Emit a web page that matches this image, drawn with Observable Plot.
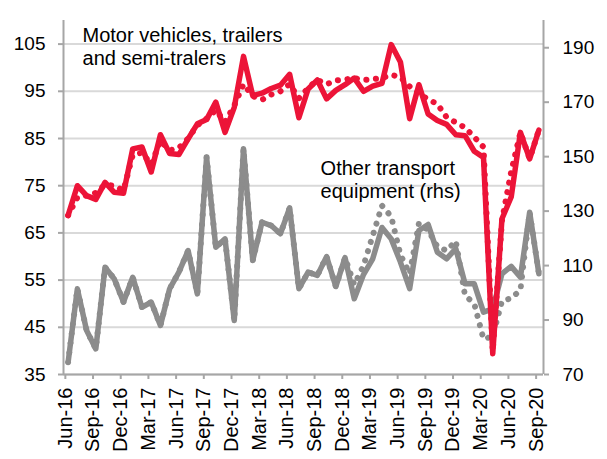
<!DOCTYPE html>
<html><head><meta charset="utf-8">
<script src="https://cdn.jsdelivr.net/npm/d3@7"></script>
<script src="https://cdn.jsdelivr.net/npm/@observablehq/plot@0.6"></script>
<style>html,body{margin:0;padding:0;background:#fff}</style>
</head><body><div id="chart"></div>
<script>
const months = [
  "Jun-16","Jul-16","Aug-16","Sep-16","Oct-16","Nov-16","Dec-16","Jan-17","Feb-17","Mar-17","Apr-17","May-17",
  "Jun-17","Jul-17","Aug-17","Sep-17","Oct-17","Nov-17","Dec-17","Jan-18","Feb-18","Mar-18","Apr-18","May-18",
  "Jun-18","Jul-18","Aug-18","Sep-18","Oct-18","Nov-18","Dec-18","Jan-19","Feb-19","Mar-19","Apr-19","May-19",
  "Jun-19","Jul-19","Aug-19","Sep-19","Oct-19","Nov-19","Dec-19","Jan-20","Feb-20","Mar-20","Apr-20","May-20",
  "Jun-20","Jul-20","Aug-20","Sep-20"
];
const tickLabels = ["Jun-16","Sep-16","Dec-16","Mar-17","Jun-17","Sep-17","Dec-17","Mar-18","Jun-18",
  "Sep-18","Dec-18","Mar-19","Jun-19","Sep-19","Dec-19","Mar-20","Jun-20","Sep-20"];

// Motor vehicles, trailers and semi-trailers (lhs)
const motor = [68.7,75.0,72.9,72.1,75.7,73.6,73.4,82.8,83.2,77.9,85.8,81.8,
  81.6,84.9,88.1,89.0,92.7,86.3,91.6,102.4,94.1,94.6,95.6,96.3,
  98.6,89.4,95.5,97.4,93.4,95.2,96.4,97.8,95.0,96.1,96.7,104.9,
  101.2,89.2,96.4,90.2,88.8,88.0,85.8,85.6,82.3,81.0,39.4,68.0,
  72.6,86.3,80.7,86.8];
const motorDotted = [68.7,72.5,72.9,73.5,75.2,75.0,74.0,81.5,82.0,79.5,84.5,82.5,
  83.0,85.0,87.8,89.2,91.0,88.5,92.0,96.5,94.0,93.2,94.3,95.0,
  96.5,93.5,95.7,97.4,96.5,97.3,97.5,97.8,97.4,97.6,97.8,98.5,
  98.0,96.0,94.5,93.3,92.3,89.5,88.4,87.3,85.3,83.2,40.0,67.6,
  78.0,86.3,80.7,86.8];
// Other transport equipment (rhs)
const other = [74.5,101.5,86.2,79.4,109.4,105.1,96.6,105.7,94.7,96.6,88.0,101.5,
  107.6,115.5,99.6,149.8,116.7,119.8,89.8,152.9,111.9,125.9,124.7,121.7,
  131.2,101.5,107.6,106.4,113.3,102.3,112.9,97.8,106.7,112.5,124.0,119.8,
  111.3,101.5,122.9,125.1,114.9,112.5,116.2,103.3,103.3,92.9,94.1,107.0,
  109.7,105.7,129.6,107.0];
const otherDotted = [74.5,101.5,86.2,79.4,109.4,105.1,96.6,105.7,94.7,96.6,88.0,101.5,
  107.6,115.5,99.6,149.8,116.7,119.8,89.8,152.9,111.9,125.9,124.7,121.7,
  131.2,101.5,107.6,106.4,113.3,102.3,112.9,103.0,110.0,121.0,132.0,128.0,
  114.0,107.0,125.5,123.0,117.0,115.5,119.0,99.0,96.0,83.0,84.0,97.0,
  98.0,101.0,129.6,107.0];

const leftTicks = [35,45,55,65,75,85,95,105];
const rightTicks = [70,90,110,130,150,170,190];
const leftDomain = [35,110];
const rightDomain = [70,200];

const toLeft = v => leftDomain[0] + (v - rightDomain[0]) * (leftDomain[1]-leftDomain[0]) / (rightDomain[1]-rightDomain[0]);
const toRight = v => rightDomain[0] + (v - leftDomain[0]) * (rightDomain[1]-rightDomain[0]) / (leftDomain[1]-leftDomain[0]);

const rows = (arr, conv) => arr.map((v, i) => ({i, v: conv ? conv(v) : v}));
const xTicks = tickLabels.map(l => months.indexOf(l) - 0.3);

const RED = "#ec1438";
const GRAY = "#8c8c8c";
const AXIS = "#a6a6a6";

const chart = Plot.plot({
  width: 607,
  height: 459,
  marginLeft: 63,
  marginRight: 64,
  marginTop: 20,
  marginBottom: 85,
  x: {domain: [-0.5, months.length - 0.5]},
  y: {domain: leftDomain},
  style: {fontFamily: "'Liberation Sans', Arial, sans-serif", fontSize: "19px", color: "#000", background: "#fff"},
  marks: [
    Plot.gridY(leftTicks, {stroke: "#d9d9d9", strokeOpacity: 1, strokeWidth: 2}),
    Plot.ruleX([-0.5, months.length - 0.5], {stroke: AXIS, strokeWidth: 2}),
    Plot.ruleY([leftDomain[0]], {stroke: AXIS, strokeWidth: 2}),
    Plot.axisY(leftTicks, {anchor: "left", tickSize: 5, tickPadding: 13, stroke: AXIS, strokeWidth: 2, fill: "#000", fontSize: 19, label: null}),
    Plot.axisY(rightTicks.map(toLeft), {anchor: "right", tickSize: 5, tickPadding: 14, stroke: AXIS, strokeWidth: 2, fill: "#000", fontSize: 19, label: null, tickFormat: d => String(Math.round(toRight(d)))}),
    Plot.axisX(xTicks, {anchor: "bottom", tickSize: 5, tickPadding: 8, tickRotate: -90, stroke: AXIS, strokeWidth: 2, fill: "#000", fontSize: 20, label: null, tickFormat: d => months[Math.round(d + 0.3)]}),
    Plot.line(rows(other, toLeft), {x: "i", y: "v", stroke: GRAY, strokeWidth: 5.5}),
    Plot.line(rows(otherDotted, toLeft), {x: "i", y: "v", stroke: GRAY, strokeWidth: 6, strokeDasharray: "0.1 9.5", strokeLinecap: "round"}),
    Plot.line(rows(motor), {x: "i", y: "v", stroke: RED, strokeWidth: 5.5}),
    Plot.line(rows(motorDotted), {x: "i", y: "v", stroke: RED, strokeWidth: 6, strokeDasharray: "0.1 9.5", strokeLinecap: "round"}),
    Plot.text(["Motor vehicles, trailers\nand semi-tralers"], {x: 1.56, y: 100.5, text: d => d, textAnchor: "start", lineAnchor: "bottom", lineHeight: 1.165, fontSize: 20, fill: "#000"}),
    Plot.text(["Other transport\nequipment (rhs)"], {x: 27.35, y: 72.3, text: d => d, textAnchor: "start", lineAnchor: "bottom", lineHeight: 1.165, fontSize: 20, fill: "#000"})
  ]
});
document.getElementById("chart").appendChild(chart);
</script>
</body></html>
